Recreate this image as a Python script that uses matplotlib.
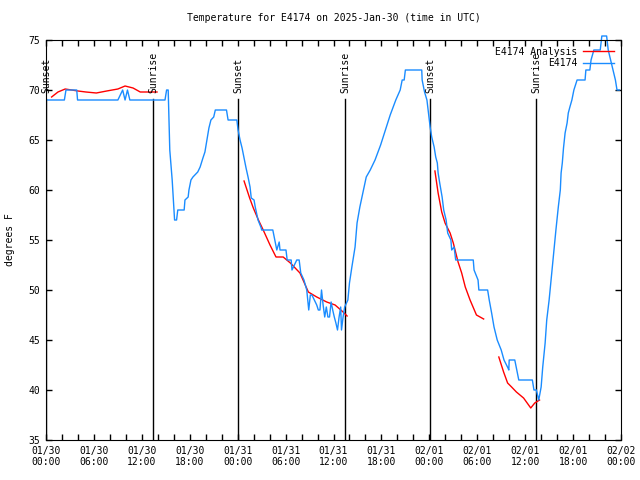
import numpy as np
import matplotlib
matplotlib.use('Agg')
import matplotlib.pyplot as plt

nan = np.nan

# E4174 station temps (hours since 2025-01-30 00:00 UTC, deg F)
obs_h = [0.2, 2.3, 2.5, 3.85, 3.95, 9.0, 9.6, 9.9, 10.2, 10.5, 14.9, 15.1, 15.3,
         15.5, 15.8, 15.95, 16.05, 16.1, 16.35, 16.5, 17.3, 17.4, 17.8, 17.9, 18.15,
         18.4, 19.0, 19.3, 19.65, 19.9, 20.15, 20.4, 20.65, 21.0, 21.2, 22.6, 22.8,
         23.9, 24.05, 24.3, 24.55, 24.8, 25.05, 25.3, 25.55, 25.7, 26.05, 26.2, 26.55,
         26.95, 27.0, 28.4, 28.9, 29.2, 29.3, 30.05, 30.2, 30.7, 30.8, 31.4, 31.7,
         31.9, 32.3, 32.65, 32.9, 33.1, 33.3, 33.6, 33.9, 34.1, 34.3, 34.5, 34.7,
         34.9, 35.1, 35.3, 35.5, 35.7, 35.9, 36.1, 36.3, 36.5, 36.7, 36.9, 37.0,
         37.2, 37.4, 37.8, 38.0, 38.3, 38.7, 38.95, 39.3, 39.7, 40.1, 40.45, 40.6,
         41.2, 41.9, 42.5, 43.1, 43.8, 44.35, 44.6, 44.85, 45.0, 47.05, 47.1, 47.4,
         47.7, 47.95, 48.1, 48.3, 48.6, 48.8, 49.0, 49.1, 49.3, 49.6, 49.8, 50.1,
         50.3, 50.7, 50.8, 51.1, 51.3, 51.8, 53.5, 53.6, 54.1, 54.2, 55.3, 55.5,
         55.8, 56.1, 56.5, 57.0, 57.35, 57.85, 57.95, 58.0, 58.7, 59.2, 60.9, 61.1,
         61.4, 61.7, 62.0, 62.2, 62.5, 62.7, 63.0, 63.85, 64.15, 64.4, 64.5, 64.65,
         64.8, 65.0, 65.25, 65.4, 65.6, 65.85, 66.1, 66.5, 67.5, 67.6, 68.1, 68.25,
         68.6, 69.4, 69.6, 70.2, 70.4, 70.7, 71.0, 71.3, 71.5, 71.8]
obs_t = [69, 69, 70, 70, 69, 69, 70, 69, 70, 69, 69, 70, 70,
         64, 61, 59, 57.8, 57, 57, 58, 58, 59, 59.3, 60, 61,
         61.3, 61.8, 62.3, 63.2, 63.8, 65, 66.2, 67, 67.3, 68, 68, 67,
         67, 66, 65, 64.2, 63.2, 62.2, 61.3, 60.3, 59.2, 59, 58.3, 57,
         56.2, 56, 56, 54, 54.8, 54, 54, 53, 53, 52, 53, 53,
         51.7, 51, 50, 48, 49.5, 49.5, 49, 48.5, 48, 48, 50, 48.5,
         47.3, 48.3, 47.3, 47.3, 48.8, 48, 47.3, 46.7, 46, 47.3, 48.3, 46,
         47.3, 48.3, 49, 50.7, 52.3, 54.3, 56.7, 58.3, 59.8, 61.3, 61.8, 62,
         63, 64.5, 66, 67.5, 69, 70, 71, 71, 72, 72, 71, 69.8,
         69, 67.3, 66.3, 65.3, 64.3, 63.3, 62.7, 61.7, 60.7, 59.3, 58, 57,
         55.7, 55, 54, 54.3, 53, 53, 53, 52, 51, 50, 50, 49,
         47.7, 46.3, 45, 44, 43, 42.2, 42, 43, 43, 41, 41, 40,
         40, 39, 40.3, 42.3, 44.7, 47, 49, 56, 58.3, 60, 61.7, 62.7,
         64.2, 65.7, 66.7, 67.7, 68.3, 69, 70, 71, 71, 72, 72, 73,
         74, 74, 75.4, 75.4, 74, 73, 72, 71, 70, 70]

# E4174 Analysis (gaps as nan)
ana_h = [0.7, 1.5, 2.4, 4.0, 5.0, 6.3, 7.6, 9.0, 9.9, 10.9, 11.8, 12.4, 13.9, nan,
         24.8, 25.5, 25.96, 26.6, 27.2, 28.05, 28.8, 29.7, 30.6, 31.8, 32.85, 33.9,
         35.15, 36.2, 37.2, 37.7, nan,
         48.7, 49.1, 49.55, 49.97, 50.6, 51.0, 51.6, 52.05, 52.5, 53.1, 53.9, 54.8, nan,
         56.7, 57.3, 57.8, 58.3, 58.9, 59.8, 60.7, 61.2, 61.8]
ana_t = [69.3, 69.8, 70.1, 69.9, 69.8, 69.7, 69.9, 70.1, 70.4, 70.2, 69.8, 69.8, 69.8, nan,
         60.9, 59.2, 58.2, 57, 56, 54.5, 53.3, 53.3, 52.7, 51.7, 49.8, 49.3,
         48.8, 48.5, 47.8, 47.4, nan,
         61.9, 59.7, 57.8, 56.7, 55.7, 54.7, 52.8, 51.7, 50.3, 49, 47.5, 47.1, nan,
         43.3, 41.8, 40.7, 40.3, 39.8, 39.2, 38.2, 38.7, 39]

sun_h = [0.05, 13.4, 24.07, 37.5, 48.1, 61.4]
sun_lbl = ['Sunset', 'Sunrise', 'Sunset', 'Sunrise', 'Sunset', 'Sunrise']

tick_h = np.arange(0, 73, 6)
tick_lbl = ['01/30\n00:00', '01/30\n06:00', '01/30\n12:00', '01/30\n18:00',
            '01/31\n00:00', '01/31\n06:00', '01/31\n12:00', '01/31\n18:00',
            '02/01\n00:00', '02/01\n06:00', '02/01\n12:00', '02/01\n18:00',
            '02/02\n00:00']

plt.rcParams['font.family'] = 'DejaVu Sans Mono'
plt.rcParams['font.size'] = 7

fig = plt.figure(figsize=(6.4, 4.8), dpi=100)
ax = fig.add_axes([46/640, 40/480, 575/640, 400/480])

# sunrise / sunset markers
for h, s in zip(sun_h, sun_lbl):
    ax.plot([h, h], [35, 69.1], color='black', lw=1)
    ax.text(h, 69.7, s, rotation=90, ha='center', va='bottom', fontsize=7)

ax.plot(ana_h, ana_t, color='#ff0000', lw=1, label='E4174 Analysis')
ax.plot(obs_h, obs_t, color='#1a8cff', lw=1, label='E4174', clip_on=False)

ax.set_xlim(0, 72)
ax.set_ylim(35, 75)
ax.set_xticks(tick_h)
ax.set_xticklabels(tick_lbl)
ax.set_xticks(np.arange(0, 73, 2), minor=True)
ax.set_yticks(np.arange(35, 76, 5))
ax.tick_params(which='both', direction='in', top=True, right=True, length=4, width=1, pad=4)
ax.set_ylabel('degrees F', labelpad=10)
ax.set_title('Temperature for E4174 on 2025-Jan-30 (time in UTC)', fontsize=7, pad=14)
ax.legend(loc='upper right', frameon=False, markerfirst=False, handlelength=3.2,
          borderaxespad=0.3, labelspacing=0.15, handletextpad=0.6)

plt.savefig('out.png', dpi=100)
